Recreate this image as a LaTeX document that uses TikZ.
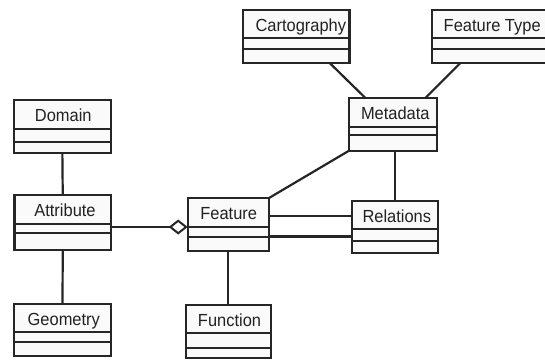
\documentclass[tikz,border=0pt]{standalone}
\usepackage{fontspec}
\setmainfont{Liberation Sans}
\usetikzlibrary{arrows.meta,calc}
\definecolor{ln}{HTML}{262626}
\definecolor{bx}{HTML}{FAFAFA}
\definecolor{tx}{HTML}{222222}
\tikzset{
  classbox/.style={draw=ln, fill=bx, line width=2.3pt, rectangle, inner sep=0pt, outer sep=0pt, anchor=north west},
  divider/.style={draw=ln, line width=2.3pt},
  classtext/.style={text=tx, font=\fontsize{17.5}{20}\selectfont, anchor=base, inner sep=0pt},
  conn/.style={draw=ln, line width=2.2pt},
}
% #1 name, #2 x1, #3 y1, #4 x2, #5 y2, #6 d1, #7 d2, #8 text centre x, #9 text
\newcommand{\umlclassbox}[9]{%
  \node[classbox, minimum width={(#4-#2)*1pt}, minimum height={(#5-#3)*1pt}] (#1) at (#2,#3) {};
  \draw[divider] (#1.west |- 0,#6) -- (#1.east |- 0,#6);
  \draw[divider] (#1.west |- 0,#7) -- (#1.east |- 0,#7);
  \node[classtext] (#1-t) at (#8,#3+21) {\scalebox{0.94}[1]{#9}};
}
\begin{document}
\begin{tikzpicture}[x=1pt,y=-1pt]
\fill[white] (0,0) rectangle (545,360);
\useasboundingbox (0,0) rectangle (545,360);
\clip (0,0) rectangle (545,360);

\umlclassbox{domain}{14}{100}{110.7}{153.3}{129}{141.7}{63.3}{Domain}
\umlclassbox{attribute}{14.5}{195}{111}{250}{223.7}{233}{65}{Attribute}
\umlclassbox{geometry}{14}{304}{111}{355.7}{331.7}{341.7}{63.8}{Geometry}
\umlclassbox{feature}{187.7}{198}{269}{251}{227}{236.7}{228.7}{Feature}
\umlclassbox{function}{185.7}{305}{271}{358}{333.3}{347.7}{229.5}{Function}
\umlclassbox{relations}{352}{201}{438}{253}{229}{241}{396.8}{Relations}
\umlclassbox{metadata}{349}{98.3}{436.7}{150.7}{126.7}{135}{395.3}{Metadata}
\umlclassbox{cartography}{243.3}{10}{349.5}{63.3}{38.3}{49}{300.8}{Cartography}
\umlclassbox{ftype}{432.3}{10}{549}{63.3}{38.3}{48.7}{492.2}{Feature Type}

\coordinate (aggy) at (0,227);
\coordinate (rely1) at (0,216);
\coordinate (rely2) at (0,236.5);
\coordinate (carto-end) at (330,63.3);
\coordinate (meta-l) at (365.7,98.3);
\coordinate (ftype-end) at (460,63.3);
\coordinate (meta-r) at (425,98.3);
\coordinate (metarel) at (395,0);

\draw[conn] (domain.south) -- (attribute.north);
\draw[conn] (attribute.south) -- (geometry.north);
\draw[conn, -{Diamond[open, length=19pt, width=15pt, line width=2pt]}] (attribute.east |- aggy) -- (feature.west |- aggy);
\draw[conn] (feature.south) -- (function.north);
\draw[conn] (feature.north east) -- (metadata.south west);
\draw[conn] (metarel |- metadata.south) -- (metarel |- relations.north);
\draw[conn] (feature.east |- rely1) -- (relations.west |- rely1);
\draw[conn] (feature.east |- rely2) -- (relations.west |- rely2);
\draw[conn] (carto-end) -- (meta-l);
\draw[conn] (ftype-end) -- (meta-r);
\end{tikzpicture}
\end{document}
